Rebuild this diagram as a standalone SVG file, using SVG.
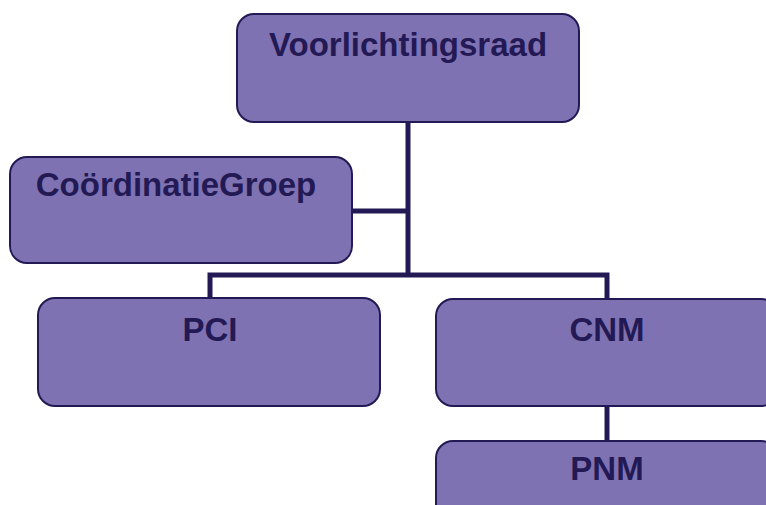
<svg xmlns="http://www.w3.org/2000/svg" width="766" height="505" viewBox="0 0 766 505">
<style>
.box{fill:#7F72B2;stroke:#231A55;stroke-width:2}
.lbl{font-family:"Liberation Sans",Arial,sans-serif;font-weight:bold;font-size:33px;fill:#231A55;text-anchor:middle}
.con{fill:none;stroke:#231A55;stroke-width:5}
</style>
<rect width="766" height="505" fill="#ffffff"/>
<g id="connectors">
<path class="con" d="M408,122 V275"/>
<path class="con" d="M352,211 H408"/>
<path class="con" d="M210,298 V275 H607 V299"/>
<path class="con" d="M607,406 V441"/>
</g>
<g id="voorlichtingsraad">
<rect class="box" x="237" y="14" width="342" height="108" rx="17"/>
<text class="lbl" x="408" y="56">Voorlichtingsraad</text>
</g>
<g id="coordinatiegroep">
<rect class="box" x="10" y="157" width="342" height="106" rx="17"/>
<text class="lbl" x="176" y="196">CoördinatieGroep</text>
</g>
<g id="pci">
<rect class="box" x="38" y="298" width="342" height="108" rx="17"/>
<text class="lbl" x="210" y="341">PCI</text>
</g>
<g id="cnm">
<rect class="box" x="436" y="299" width="342" height="107" rx="17"/>
<text class="lbl" x="607" y="341">CNM</text>
</g>
<g id="pnm">
<rect class="box" x="436" y="441" width="342" height="107" rx="17"/>
<text class="lbl" x="607" y="480">PNM</text>
</g>
</svg>
